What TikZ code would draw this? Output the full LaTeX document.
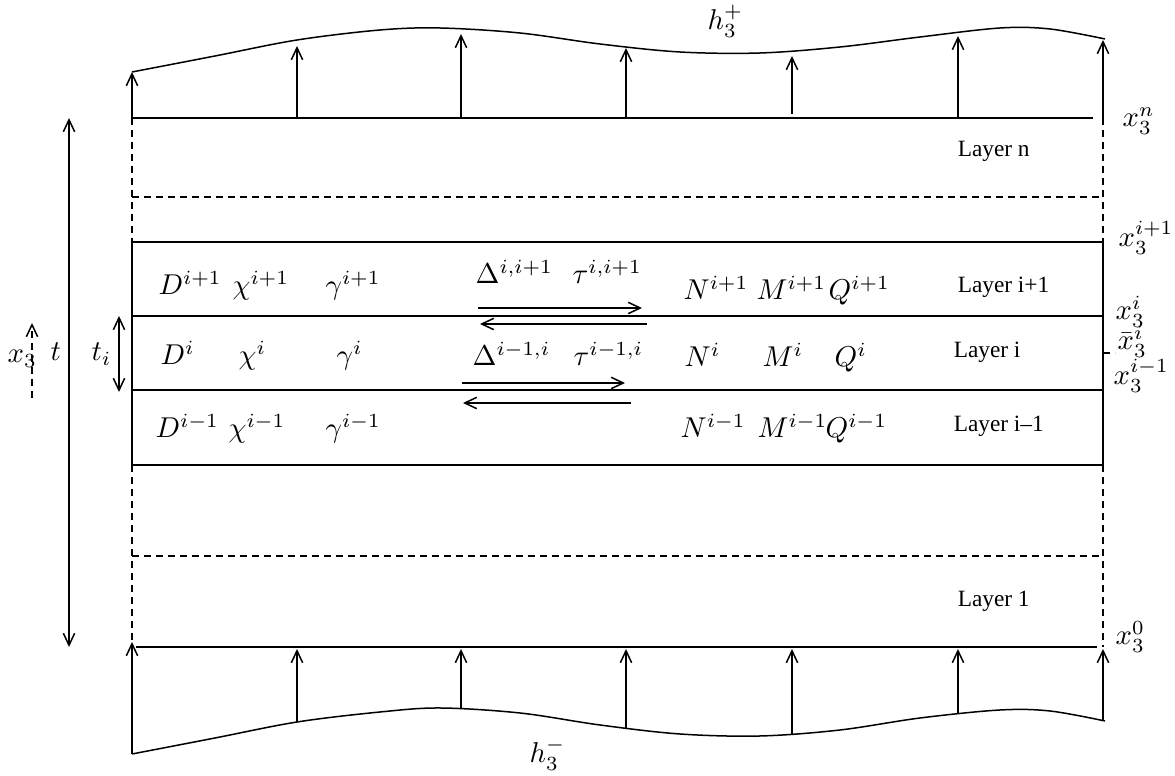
\documentclass[tikz,border=0pt]{standalone}
\usepackage{amsmath}
\usepackage{fontspec}
\newfontfamily\layerfont{Liberation Serif}
\usetikzlibrary{arrows.meta}

\tikzset{
    arr/.style={-{Straight Barb[length=3.6pt,width=3.4pt]}},
    dbl/.style={{Straight Barb[length=3.6pt,width=3.4pt]}-{Straight Barb[length=3.6pt,width=3.4pt]}},
    dsh/.style={dash pattern=on 2.2pt off 1.4pt},
    sym/.style={inner sep=0pt, anchor=base west, scale=0.86},
    lay/.style={inner sep=0pt, anchor=base west, font=\layerfont\fontsize{7pt}{8pt}\selectfont}
}

\begin{document}
\begin{tikzpicture}[x=0.3pt, y=-0.3pt, line width=0.45pt]

\useasboundingbox (0,0) rectangle (1175,776);

% surfaces h3+ and h3-
\draw plot[smooth, tension=0.55] coordinates {(132,72) (215,56) (297,40) (380,30) (440,28) (520,33) (600,44) (680,52) (760,53) (840,47) (920,37) (1000,28) (1050,29) (1105,39)};
\draw plot[smooth, tension=0.55] coordinates {(132,754) (215,738) (297,722) (380,712) (440,708) (520,713) (600,725) (680,734) (760,736) (840,730) (920,718) (1000,710) (1050,711) (1105,721)};

% top and bottom faces
\coordinate (topL) at (132,118);
\coordinate (topR) at (1093,118);
\coordinate (botL) at (136,647);
\coordinate (botR) at (1097,647);
\draw (topL) -- (topR);
\draw (botL) -- (botR);

% loads on the faces
\foreach \x/\a/\b in {132/118/72, 297/118/46, 461/118/34, 626/118/48, 792/114/56, 958/118/36, 1103/122/40}
    \draw[arr] (\x,\a) -- (\x,\b);
\foreach \x/\a/\b in {132/754/642, 297/722/649, 461/709/649, 626/728/649, 792/735/649, 958/714/649, 1103/721/649}
    \draw[arr] (\x,\a) -- (\x,\b);

% layers i+1, i, i-1
\draw (132,242) rectangle (1103,465);
\draw (132,316) -- (1103,316);
\draw (132,390) -- (1103,390);

% omitted layers
\draw[dsh] (132,118) -- (132,242);
\draw[dsh] (132,465) -- (132,647);
\draw[dsh] (1103,118) -- (1103,242);
\draw[dsh] (1103,465) -- (1103,647);
\draw[dsh] (132,197) -- (1103,197);
\draw[dsh] (132,556) -- (1103,556);

% interlaminar quantities
\draw[arr] (478,308) -- (642,308);
\draw[arr] (647,324) -- (480,324);
\draw[arr] (462,383) -- (625,383);
\draw[arr] (631,403) -- (463,403);

% thicknesses
\draw[dbl] (69,118) -- (69,647);
\draw[dbl] (119,316) -- (119,392);
\draw[arr, dsh] (32,398) -- (32,323);
\draw[dsh] (1103,353) -- (1115,353);

% labels
\node[sym] (hp) at (707,30) {$h_3^+$};
\node[sym] (hm) at (529,763) {$h_3^-$};
\node[sym] (x3l) at (7,363) {$x_3$};
\node[sym] (tl) at (50,361) {$t$};
\node[sym] (til) at (91,361) {$t_i$};

\node[sym] (xn) at (1122,127) {$x_3^n$};
\node[sym] (xip) at (1118,247) {$x_3^{i+1}$};
\node[sym] (xi) at (1115,320) {$x_3^i$};
\node[sym] (xbar) at (1117,350) {$\bar{x}_3^i$};
\node[sym] (xim) at (1113,385) {$x_3^{i-1}$};
\node[sym] (x0) at (1115,645) {$x_3^0$};

\node[lay] (ln) at (957,157) {Layer n};
\node[lay] (lip) at (957,293) {Layer i+1};
\node[lay] (li) at (953,358) {Layer i};
\node[lay] (lim) at (953,432) {Layer i–1};
\node[lay] (l1) at (957,607) {Layer 1};

\node[sym] (Dp) at (158,295) {$D^{i+1}$};
\node[sym] (Cp) at (232,295) {$\chi^{i+1}$};
\node[sym] (Gp) at (325,295) {$\gamma^{i+1}$};
\node[sym] (Dl) at (475,284) {$\Delta^{i,i+1}$};
\node[sym] (Tl) at (572,284) {$\tau^{i,i+1}$};
\node[sym] (Np) at (683,300) {$N^{i+1}$};
\node[sym] (Mp) at (756,300) {$M^{i+1}$};
\node[sym] (Qp) at (828,300) {$Q^{i+1}$};

\node[sym] (D) at (160,365) {$D^i$};
\node[sym] (C) at (238,365) {$\chi^i$};
\node[sym] (G) at (336,365) {$\gamma^i$};
\node[sym] (Dm) at (472,366) {$\Delta^{i-1,i}$};
\node[sym] (Tm) at (573,366) {$\tau^{i-1,i}$};
\node[sym] (N) at (684,367) {$N^i$};
\node[sym] (M) at (762,367) {$M^i$};
\node[sym] (Q) at (834,367) {$Q^i$};

\node[sym] (Dn) at (155,438) {$D^{i-1}$};
\node[sym] (Cn) at (228,438) {$\chi^{i-1}$};
\node[sym] (Gn) at (325,438) {$\gamma^{i-1}$};
\node[sym] (Nn) at (680,438) {$N^{i-1}$};
\node[sym] (Mn) at (757,438) {$M^{i-1}$};
\node[sym] (Qn) at (825,438) {$Q^{i-1}$};

\end{tikzpicture}
\end{document}
